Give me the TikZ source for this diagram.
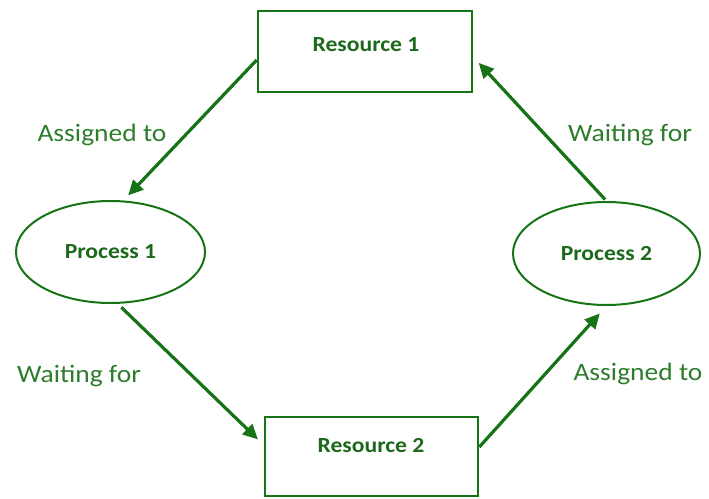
\documentclass[tikz,border=0pt]{standalone}
\usepackage{fontspec}
\setmainfont{Carlito}
\usepackage{graphicx}
\usetikzlibrary{arrows.meta,shapes.geometric}
\definecolor{lineg}{RGB}{22,115,22}
\definecolor{labg}{RGB}{45,125,45}
\definecolor{nodeg}{RGB}{28,105,28}
\newcommand\wtext[1]{\scalebox{1.1}[1]{#1}}
\begin{document}
\begin{tikzpicture}[x=1pt,y=-1pt,
  box/.style={draw=lineg,line width=2.6pt,minimum width=214pt,minimum height=81pt,inner sep=0pt},
  proc/.style={ellipse,draw=lineg,line width=2pt,inner sep=0pt,font=\fontsize{21.5}{26}\selectfont\bfseries,text=nodeg},
  boxtext/.style={font=\fontsize{21.5}{26}\selectfont\bfseries,text=nodeg,anchor=base,inner sep=0pt},
  lab/.style={font=\fontsize{25}{30}\selectfont,text=labg,anchor=base,inner sep=0pt},
  conn/.style={draw=lineg,line width=3.2pt,-{Triangle[length=15pt,width=14pt]}}]
\useasboundingbox (0,0) rectangle (709,498);
\node[box] (r1) at (365,51.5) {};
\node[box,minimum width=213pt,minimum height=79pt] (r2) at (371.5,456.5) {};
\node[boxtext] (r1t) at (366,51) {\wtext{Resource 1}};
\node[boxtext] (r2t) at (371,452) {\wtext{Resource 2}};
\node[proc,minimum width=189pt,minimum height=102pt] (p1) at (110.5,252) {\wtext{Process 1}};
\node[proc,minimum width=187pt,minimum height=103pt] (p2) at (606.5,253.5) {\wtext{Process 2}};
\node[lab] (l1) at (102,141) {\wtext{Assigned to}};
\node[lab] (l2) at (630,141) {\wtext{Waiting for}};
\node[lab] (l3) at (79,382) {\wtext{Waiting for}};
\node[lab] (l4) at (638,380) {\wtext{Assigned to}};
\draw[conn,shorten >=7pt] ([yshift=-8.5pt]r1.west) -- (p1.76);
\draw[conn,shorten <=5pt,shorten >=8pt] (p1.-82) -- ([yshift=11.5pt]r2.west);
\draw[conn,shorten >=10pt] ([yshift=9.5pt]r2.east) -- (p2.south);
\draw[conn,shorten <=2pt,shorten >=8pt] (p2.north) -- ([yshift=-5.5pt]r1.east);
\end{tikzpicture}
\end{document}
